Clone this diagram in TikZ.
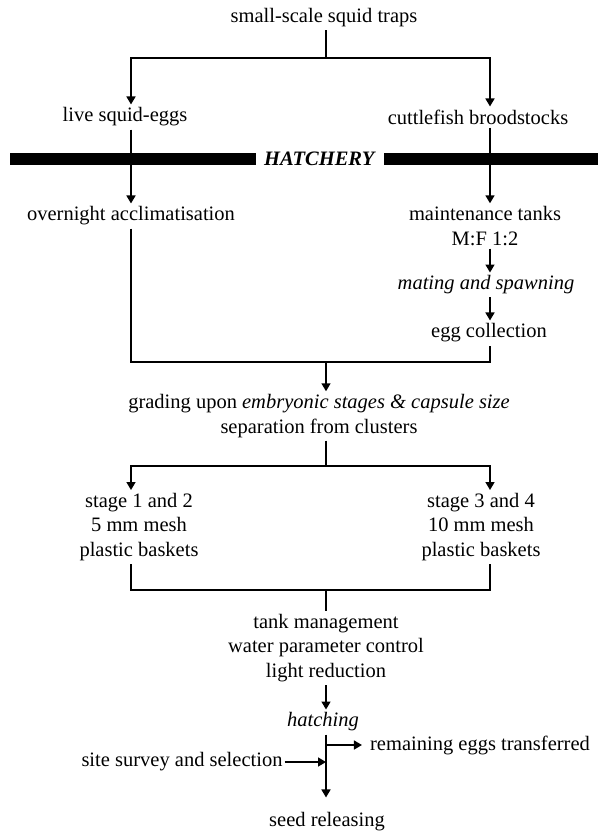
\documentclass[tikz,border=0pt]{standalone}
\usepackage{fontspec}
\setmainfont{Liberation Serif}
\usetikzlibrary{arrows.meta, positioning}

\begin{document}
\begin{tikzpicture}[
      x=1bp, y=-1bp,
      every node/.style={font=\fontsize{20.5bp}{24.5bp}\selectfont},
      lbl/.style={inner xsep=2bp, inner ysep=3bp, align=center},
      line/.style={line width=1.6bp},
      arr/.style={line, -{Triangle[length=8bp, width=9bp]}},
      bar/.style={line width=11.5bp}
    ]
      \useasboundingbox (0,0) rectangle (598,833);
      \coordinate (cL) at (131,0);
      \coordinate (cM) at (326,0);
      \coordinate (cR) at (490,0);
      \coordinate (jTop) at (326,58);
      \coordinate (jEggs) at (326,362);
      \coordinate (jStage) at (326,466);
      \coordinate (jBask) at (326,590);
      \coordinate (jHatch) at (326,745);
      \coordinate (barL) at (10,159);
      \coordinate (barR) at (598,159);

      \node[lbl] (traps) at (324,18) {small-scale squid traps};
      \node[lbl] (eggs) at (125,117) {live squid-eggs};
      \node[lbl] (cuttle) at (478,117) {cuttlefish broodstocks};
      \node[lbl, inner xsep=8bp] (hatch) at (320,159) {\textbf{\textit{HATCHERY}}};
      \node[lbl] (accl) at (131,216) {overnight acclimatisation};
      \node[lbl] (maint) at (485,226) {maintenance tanks \\ M:F 1:2};
      \node[lbl] (mating) at (486,285) {\textit{mating and spawning}};
      \node[lbl] (eggcol) at (489,333) {egg collection};
      \node[lbl] (grading) at (319,416) {grading upon \textit{embryonic stages \& capsule size} \\ separation from clusters};
      \node[lbl] (stage12) at (139,527) {stage 1 and 2 \\ 5 mm mesh \\ plastic baskets};
      \node[lbl] (stage34) at (481,527) {stage 3 and 4 \\ 10 mm mesh \\ plastic baskets};
      \node[lbl] (tank) at (326,648) {tank management \\ water parameter control \\ light reduction};
      \node[lbl] (hatching) at (323,722) {\textit{hatching}};
      \node[lbl] (remain) at (480,745) {remaining eggs transferred};
      \node[lbl] (site) at (182,762) {site survey and selection};
      \node[lbl] (seed) at (327,822) {seed releasing};

      \draw[bar] (barL) -- (hatch.west);
      \draw[bar] (hatch.east) -- (barR);

      \draw[line] (traps.south -| cM) -- (jTop);
      \draw[arr] (jTop) -| (eggs.north -| cL);
      \draw[arr] (jTop) -| (cuttle.north -| cR);
      \draw[arr] (eggs.south -| cL) -- (accl.north -| cL);
      \draw[arr] (cuttle.south -| cR) -- (maint.north -| cR);
      \draw[arr] (maint.south -| cR) -- (mating.north -| cR);
      \draw[arr] (mating.south -| cR) -- (eggcol.north -| cR);
      \draw[line] (accl.south -| cL) |- (jEggs) -| (eggcol.south -| cR);
      \draw[arr] (jEggs) -- (grading.north -| cM);
      \draw[line] (grading.south -| cM) -- (jStage);
      \draw[arr] (jStage) -| (stage12.north -| cL);
      \draw[arr] (jStage) -| (stage34.north -| cR);
      \draw[line] (stage12.south -| cL) |- (jBask) -| (stage34.south -| cR);
      \draw[line] (jBask) -- (tank.north -| cM);
      \draw[arr] (tank.south -| cM) -- (hatching.north -| cM);
      \draw[arr] (hatching.south -| cM) -- ([yshift=12bp]seed.north -| cM);
      \draw[arr] (jHatch) -- ([xshift=-6bp]remain.west);
      \draw[arr] (site.east) -- (site.east -| cM);
    \end{tikzpicture}
\end{document}
